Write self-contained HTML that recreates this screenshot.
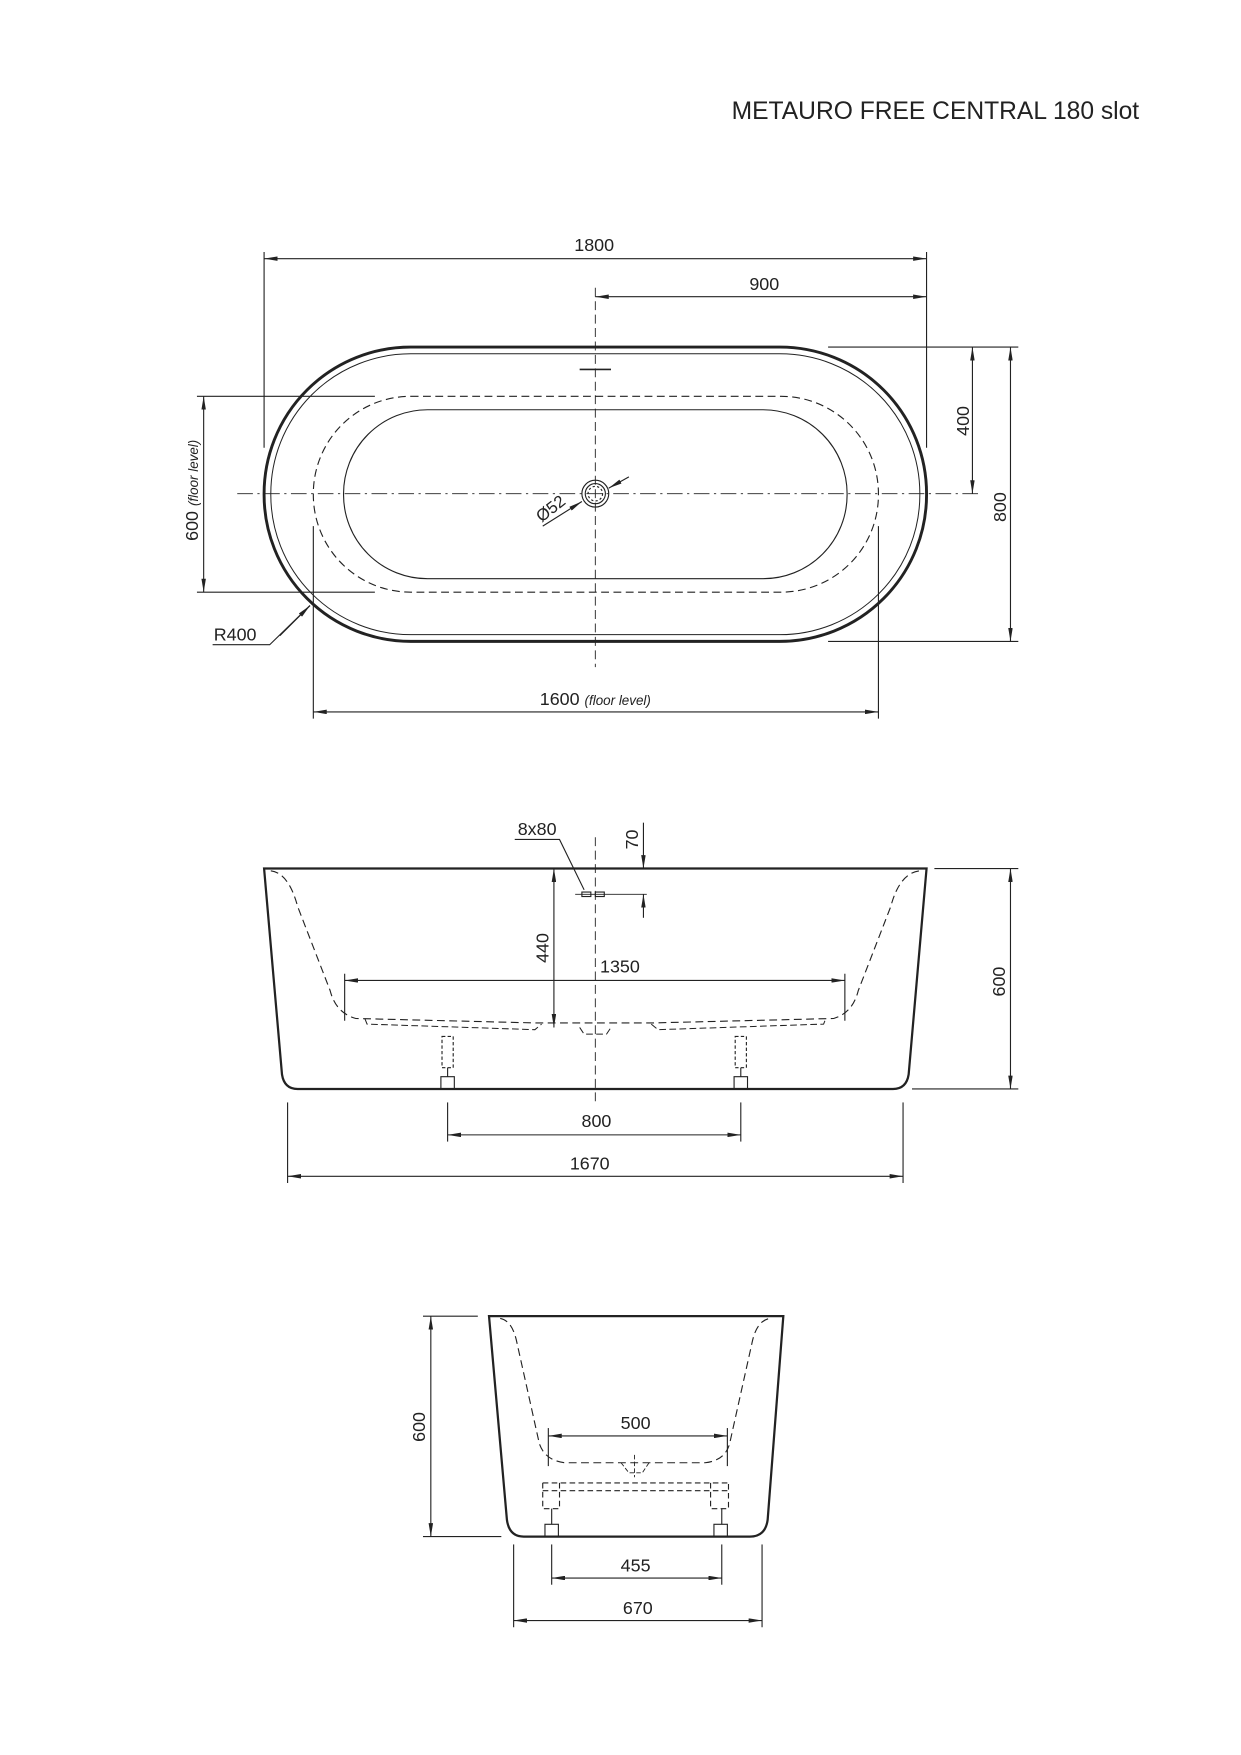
<!DOCTYPE html>
<html><head><meta charset="utf-8"><style>
html,body{margin:0;padding:0;background:#fff;}
svg{display:block;}
text{font-family:"Liberation Sans",sans-serif;fill:#222;}
</style></head><body>
<svg width="1241" height="1755" viewBox="0 0 1109 1568" xmlns="http://www.w3.org/2000/svg">
<defs>
<marker id="a" viewBox="0 0 12 4" refX="12" refY="2" markerWidth="12" markerHeight="4" markerUnits="userSpaceOnUse" orient="auto-start-reverse"><path d="M0,0 L12,2 L0,4 Z" fill="#222"/></marker>
</defs>
<g fill="none" stroke="#222" stroke-width="1">
<text x="1018" y="106" font-size="22" text-anchor="end" stroke="none">METAURO FREE CENTRAL 180 slot</text>

<!-- TOP VIEW -->
<rect x="236" y="310" width="592" height="263" rx="131" ry="131" stroke-width="2.6"/>
<rect x="242" y="316" width="580" height="251" rx="125" ry="125" stroke-width="0.9"/>
<rect x="280" y="354" width="505" height="175" rx="87" ry="87" stroke-dasharray="7,4"/>
<rect x="307" y="366" width="450" height="151" rx="75" ry="75"/>
<line x1="532" y1="257" x2="532" y2="596" stroke-dasharray="8,4" stroke-width="0.8"/>
<line x1="212" y1="441" x2="875" y2="441" stroke-dasharray="14,4,2,4" stroke-width="0.8"/>
<line x1="518" y1="330" x2="546" y2="330" stroke-width="1.5"/>
<circle cx="532" cy="441" r="12"/><circle cx="532" cy="441" r="9"/><circle cx="532" cy="441" r="6.5" stroke-dasharray="2,2"/>
<line x1="485" y1="470" x2="520" y2="448" marker-end="url(#a)"/>
<line x1="562" y1="426" x2="544" y2="436" marker-end="url(#a)"/>
<text x="0" y="0" font-size="15" stroke="none" transform="translate(484,467) rotate(-38)">Ø52</text>

<line x1="236" y1="225" x2="236" y2="400"/><line x1="828" y1="225" x2="828" y2="400"/>
<line x1="236" y1="231" x2="828" y2="231" marker-start="url(#a)" marker-end="url(#a)"/>
<text x="531" y="224" font-size="16" text-anchor="middle" stroke="none">1800</text>
<line x1="532" y1="265" x2="828" y2="265" marker-start="url(#a)" marker-end="url(#a)"/>
<text x="683" y="259" font-size="16" text-anchor="middle" stroke="none">900</text>

<line x1="740" y1="310" x2="910" y2="310"/><line x1="740" y1="573" x2="910" y2="573"/>
<line x1="869" y1="310" x2="869" y2="441" marker-start="url(#a)" marker-end="url(#a)"/>
<text font-size="16" text-anchor="middle" stroke="none" transform="translate(866,376) rotate(-90)">400</text>
<line x1="903" y1="310" x2="903" y2="573" marker-start="url(#a)" marker-end="url(#a)"/>
<text font-size="16" text-anchor="middle" stroke="none" transform="translate(899,453) rotate(-90)">800</text>

<line x1="176" y1="354" x2="335" y2="354"/><line x1="176" y1="529" x2="335" y2="529"/>
<line x1="182" y1="354" x2="182" y2="529" marker-start="url(#a)" marker-end="url(#a)"/>
<text font-size="16" text-anchor="middle" stroke="none" transform="translate(177,438) rotate(-90)">600 <tspan font-size="12" font-style="italic">(floor level)</tspan></text>

<text x="191" y="572" font-size="16" stroke="none">R400</text>
<polyline points="190,576 241,576 277,541"/>
<line x1="250" y1="568" x2="277" y2="541" marker-end="url(#a)"/>

<line x1="280" y1="470" x2="280" y2="642"/><line x1="785" y1="470" x2="785" y2="642"/>
<line x1="280" y1="636" x2="785" y2="636" marker-start="url(#a)" marker-end="url(#a)"/>
<text x="532" y="630" font-size="16" text-anchor="middle" stroke="none">1600 <tspan font-size="12" font-style="italic">(floor level)</tspan></text>

<!-- SIDE VIEW -->
<path d="M236,776 L828,776 L812,960 Q810,973 798,973 L266,973 Q254,973 252,960 Z" stroke-width="2"/>
<path d="M242,778 Q258,780 266,810 L295,885 Q300,905 318,910 L480,914 L582,914 L745,910 Q762,905 767,885 L796,810 Q804,780 822,778" stroke-dasharray="7,4"/>
<path d="M326,910 L328,915 L478,920 L484,915 M582,915 L588,920 L736,915 L738,910 M518,918 L522,924 L542,924 L546,918" stroke-dasharray="6,3" stroke-width="0.9"/>
<rect x="395" y="926" width="10" height="28" stroke-dasharray="3,2"/>
<rect x="657" y="926" width="10" height="28" stroke-dasharray="3,2"/>
<rect x="394" y="962" width="12" height="11"/><rect x="656" y="962" width="12" height="11"/>
<line x1="400" y1="954" x2="400" y2="962"/><line x1="662" y1="954" x2="662" y2="962"/>
<line x1="532" y1="748" x2="532" y2="985" stroke-dasharray="8,4" stroke-width="0.8"/>
<rect x="520" y="797" width="8" height="4"/><rect x="532" y="797" width="8" height="4"/>
<line x1="514" y1="799" x2="578" y2="799" stroke-width="0.8"/>
<line x1="575" y1="735" x2="575" y2="776" marker-end="url(#a)"/>
<line x1="575" y1="820" x2="575" y2="799" marker-end="url(#a)"/>
<text font-size="16" text-anchor="middle" stroke="none" transform="translate(570,750) rotate(-90)">70</text>
<text x="480" y="746" font-size="16" text-anchor="middle" stroke="none">8x80</text>
<polyline points="460,750 500,750 522,795"/>
<line x1="495" y1="776" x2="495" y2="918" marker-start="url(#a)" marker-end="url(#a)"/>
<text font-size="16" text-anchor="middle" stroke="none" transform="translate(490,847) rotate(-90)">440</text>
<line x1="308" y1="870" x2="308" y2="912"/><line x1="755" y1="870" x2="755" y2="912"/>
<line x1="308" y1="876" x2="755" y2="876" marker-start="url(#a)" marker-end="url(#a)"/>
<text x="554" y="869" font-size="16" text-anchor="middle" stroke="none">1350</text>
<line x1="835" y1="776" x2="910" y2="776"/><line x1="815" y1="973" x2="910" y2="973"/>
<line x1="903" y1="776" x2="903" y2="973" marker-start="url(#a)" marker-end="url(#a)"/>
<text font-size="16" text-anchor="middle" stroke="none" transform="translate(898,877) rotate(-90)">600</text>
<line x1="400" y1="985" x2="400" y2="1020"/><line x1="662" y1="985" x2="662" y2="1020"/>
<line x1="400" y1="1014" x2="662" y2="1014" marker-start="url(#a)" marker-end="url(#a)"/>
<text x="533" y="1007" font-size="16" text-anchor="middle" stroke="none">800</text>
<line x1="257" y1="985" x2="257" y2="1057"/><line x1="807" y1="985" x2="807" y2="1057"/>
<line x1="257" y1="1051" x2="807" y2="1051" marker-start="url(#a)" marker-end="url(#a)"/>
<text x="527" y="1045" font-size="16" text-anchor="middle" stroke="none">1670</text>

<!-- END VIEW -->
<path d="M437,1176 L700,1176 L686,1358 Q684,1373 670,1373 L468,1373 Q455,1373 453,1358 Z" stroke-width="2"/>
<path d="M447,1178 Q458,1180 462,1200 L482,1290 Q487,1305 505,1307 L630,1307 Q648,1305 652,1290 L672,1200 Q676,1180 688,1178" stroke-dasharray="7,4"/>
<path d="M567,1300 L567,1320 M555,1307 L562,1316 L574,1316 L580,1307" stroke-dasharray="4,2" stroke-width="0.8"/>
<path d="M485,1325 L652,1325 M485,1332 L652,1332 M485,1325 L485,1348 L500,1348 L500,1325 M635,1325 L635,1348 L651,1348 L651,1325" stroke-dasharray="5,3"/>
<rect x="487" y="1362" width="12" height="11"/><rect x="638" y="1362" width="12" height="11"/>
<line x1="493" y1="1348" x2="493" y2="1362"/><line x1="645" y1="1348" x2="645" y2="1362"/>
<line x1="490" y1="1276" x2="490" y2="1310"/><line x1="650" y1="1276" x2="650" y2="1310"/>
<line x1="490" y1="1283" x2="650" y2="1283" marker-start="url(#a)" marker-end="url(#a)"/>
<text x="568" y="1277" font-size="16" text-anchor="middle" stroke="none">500</text>
<line x1="378" y1="1176" x2="427" y2="1176"/><line x1="378" y1="1373" x2="448" y2="1373"/>
<line x1="385" y1="1176" x2="385" y2="1373" marker-start="url(#a)" marker-end="url(#a)"/>
<text font-size="16" text-anchor="middle" stroke="none" transform="translate(380,1275) rotate(-90)">600</text>
<line x1="493" y1="1380" x2="493" y2="1416"/><line x1="645" y1="1380" x2="645" y2="1416"/>
<line x1="493" y1="1410" x2="645" y2="1410" marker-start="url(#a)" marker-end="url(#a)"/>
<text x="568" y="1404" font-size="16" text-anchor="middle" stroke="none">455</text>
<line x1="459" y1="1380" x2="459" y2="1454"/><line x1="681" y1="1380" x2="681" y2="1454"/>
<line x1="459" y1="1448" x2="681" y2="1448" marker-start="url(#a)" marker-end="url(#a)"/>
<text x="570" y="1442" font-size="16" text-anchor="middle" stroke="none">670</text>
</g>
</svg>
</body></html>
